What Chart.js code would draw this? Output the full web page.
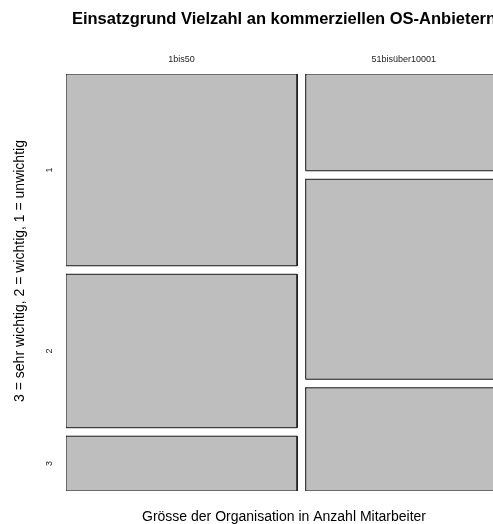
<!DOCTYPE html>
<html><head><meta charset="utf-8">
<script src="https://cdn.jsdelivr.net/npm/chart.js@4.4.1/dist/chart.umd.min.js"></script>
<style>html,body{margin:0;padding:0;overflow:hidden;background:#fff;width:493px;height:524px}canvas{display:block}</style>
</head><body>
<canvas id="c" width="530" height="524"></canvas>
<script>
const chartTitle = 'Einsatzgrund Vielzahl an kommerziellen OS-Anbietern';
const xTitle = 'Grösse der Organisation in Anzahl Mitarbeiter';
const yTitle = '3 = sehr wichtig, 2 = wichtig, 1 = unwichtig';
const categories = ['1bis50', '51bisüber10001'];
const levels = ['1', '2', '3'];
const counts1bis50 = [35, 28, 10];
const counts51bisueber10001 = [15, 31, 16];

const gapX = 0.02, gapY = 0.0213;
const FONT = '"Liberation Sans", Arial, Helvetica, sans-serif';

const columns = [counts1bis50, counts51bisueber10001];
const sum = a => a.reduce((s, v) => s + v, 0);
const N = columns.reduce((s, c) => s + sum(c), 0);
const datasets = [];
const colCenters = [];
const rowCenters = [];
let xc = 0;
columns.forEach((c, j) => {
  const n = sum(c);
  const x0 = xc, x1 = xc + n / N;
  colCenters.push((x0 + x1) / 2);
  let yc = 0;
  c.forEach((v, i) => {
    const y0 = yc, y1 = yc + v / n;
    if (j === 0) rowCenters.push((y0 + y1) / 2);
    datasets.push({
      label: categories[j] + ' / ' + levels[i],
      data: [{x: x0, y: y0}, {x: x1, y: y0}, {x: x1, y: y1}, {x: x0, y: y1}, {x: x0, y: y0}],
      fill: 'shape',
      backgroundColor: '#bebebe',
      borderColor: '#1a1a1a',
      borderWidth: 1,
      borderJoinStyle: 'miter',
      borderCapStyle: 'square',
      pointRadius: 0,
      pointHoverRadius: 0,
      tension: 0
    });
    yc = y1 + gapY;
  });
  xc = x1 + gapX;
});

const textPlugin = {
  id: 'texts',
  afterDraw(chart) {
    const ctx = chart.ctx, a = chart.chartArea;
    const xs = chart.scales.x, ys = chart.scales.y;
    const cx = (a.left + a.right) / 2;
    ctx.save();
    ctx.fillStyle = '#000';
    ctx.textAlign = 'center';
    ctx.textBaseline = 'middle';
    ctx.font = 'bold 16.5px ' + FONT;
    ctx.fillText(chartTitle, cx, 19);
    ctx.font = '14px ' + FONT;
    ctx.fillText(xTitle, cx, 517);
    ctx.save();
    ctx.translate(20, 271);
    ctx.rotate(-Math.PI / 2);
    ctx.fillText(yTitle, 0, 0);
    ctx.restore();
    ctx.font = '9px ' + FONT;
    ctx.fillStyle = '#222';
    categories.forEach((c, j) => ctx.fillText(c, xs.getPixelForValue(colCenters[j]), 60));
    levels.forEach((l, i) => {
      ctx.save();
      ctx.translate(50, ys.getPixelForValue(rowCenters[i]));
      ctx.rotate(-Math.PI / 2);
      ctx.fillText(l, 0, 0);
      ctx.restore();
    });
    ctx.restore();
  }
};

new Chart(document.getElementById('c'), {
  type: 'line',
  data: {datasets},
  options: {
    responsive: false,
    animation: false,
    events: [],
    layout: {padding: {left: 66, right: 28, top: 74, bottom: 33}},
    plugins: {legend: {display: false}, tooltip: {enabled: false}, title: {display: false}},
    scales: {
      x: {type: 'linear', display: false, min: 0, max: 1 + gapX},
      y: {type: 'linear', display: false, min: 0, max: 1 + 2 * gapY, reverse: true}
    }
  },
  plugins: [textPlugin]
});
</script>
</body></html>
